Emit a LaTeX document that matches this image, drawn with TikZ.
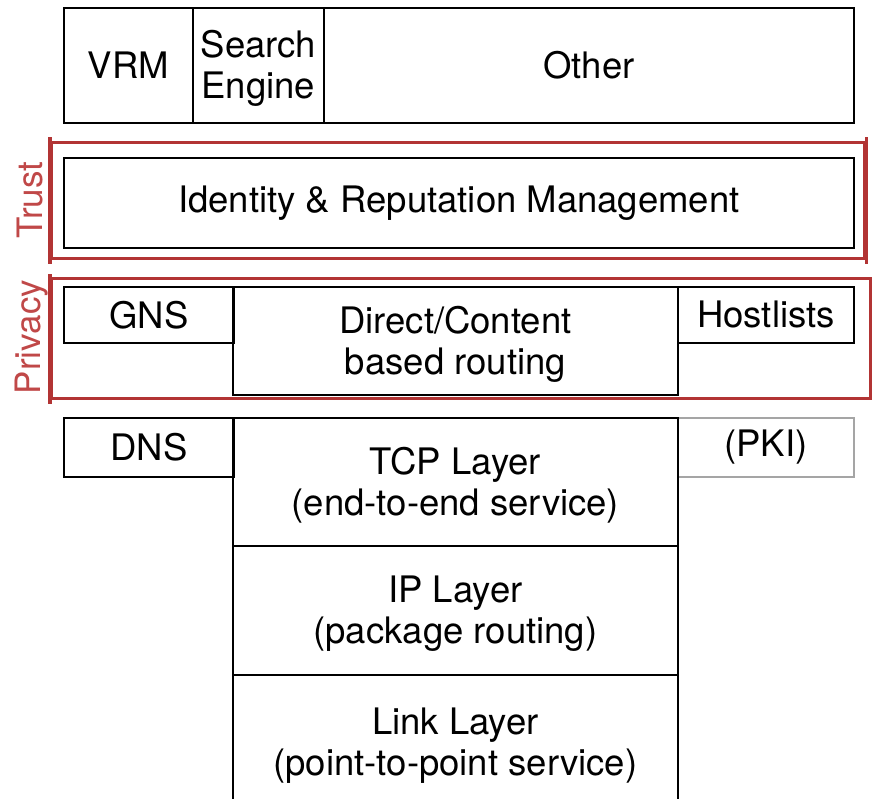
\documentclass[tikz,border=0pt]{standalone}
\usepackage{fontspec}
\setmainfont{TeX Gyre Heros}
\definecolor{trustred}{RGB}{178,52,52}
\definecolor{labelred}{RGB}{192,72,72}
\definecolor{pkigray}{RGB}{165,165,165}
\newcommand{\topstrut}{\rule{0pt}{34pt}}
\begin{document}
\begin{tikzpicture}[x=1pt,y=-1pt,
  box/.style={draw=black, line width=1.8pt, rectangle, inner sep=0pt, anchor=north west, align=center, font=\fontsize{36.5}{41}\selectfont},
  graybox/.style={box, draw=pkigray, line width=1.5pt},
  grp/.style={draw=trustred, line width=3.2pt, rectangle, inner sep=0pt, anchor=north west},
  grpline/.style={draw=trustred, line width=3.2pt},
  grplabel/.style={text=labelred, rotate=90, font=\fontsize{35}{41}\selectfont, inner sep=0pt}]
\useasboundingbox (0,0) rectangle (872,798);
\clip (0,0) rectangle (872,798);
% top row
\node[box, minimum width=129pt, minimum height=115pt] (vrm) at (63,7) {VRM};
\node[box, minimum width=131pt, minimum height=115pt] (search) at (192,7) {\topstrut Search\\Engine};
\node[box, minimum width=530pt, minimum height=115pt] (other) at (323,7) {Other};
% trust group
\node[grp, minimum width=813pt, minimum height=116pt] (trust) at (50,141) {};
\draw[grpline] ([yshift=4pt]trust.north west) -- ([yshift=-4pt]trust.south west);
\draw[grpline] ([yshift=4pt]trust.north east) -- ([yshift=-4pt]trust.south east);
\node[box, minimum width=790pt, minimum height=90pt] (identity) at (63,157) {Identity \& Reputation Management};
\node[grplabel] (trustlbl) at (30,200) {Trust};
% privacy group
\node[grp, minimum width=819pt, minimum height=120pt] (privacy) at (50,277) {};
\draw[grpline] ([yshift=3pt]privacy.north west) -- ([yshift=-4pt]privacy.south west);
\node[box, minimum width=445pt, minimum height=108pt] (direct) at (232,286) {\topstrut Direct/Content\\based routing};
\node[box, minimum width=170pt, minimum height=56pt] (gns) at (63,286) {GNS};
\node[box, minimum width=176pt, minimum height=56pt] (hostlists) at (677,286) {Hostlists};
\node[grplabel] (privacylbl) at (32,337) {Privacy};
% lower stack
\node[graybox, minimum width=176pt, minimum height=59pt] (pki) at (677,417) {(PKI)};
\node[box, minimum width=170pt, minimum height=59pt] (dns) at (63,417) {DNS};
\node[box, minimum width=445pt, minimum height=128pt] (tcp) at (232,417) {\topstrut TCP Layer\\(end-to-end service)};
\node[box, minimum width=445pt, minimum height=129pt] (ip) at (232,545) {\topstrut IP Layer\\(package routing)};
\node[box, minimum width=445pt, minimum height=134pt] (link) at (232,674) {\topstrut Link Layer\\(point-to-point service)};
\end{tikzpicture}
\end{document}
